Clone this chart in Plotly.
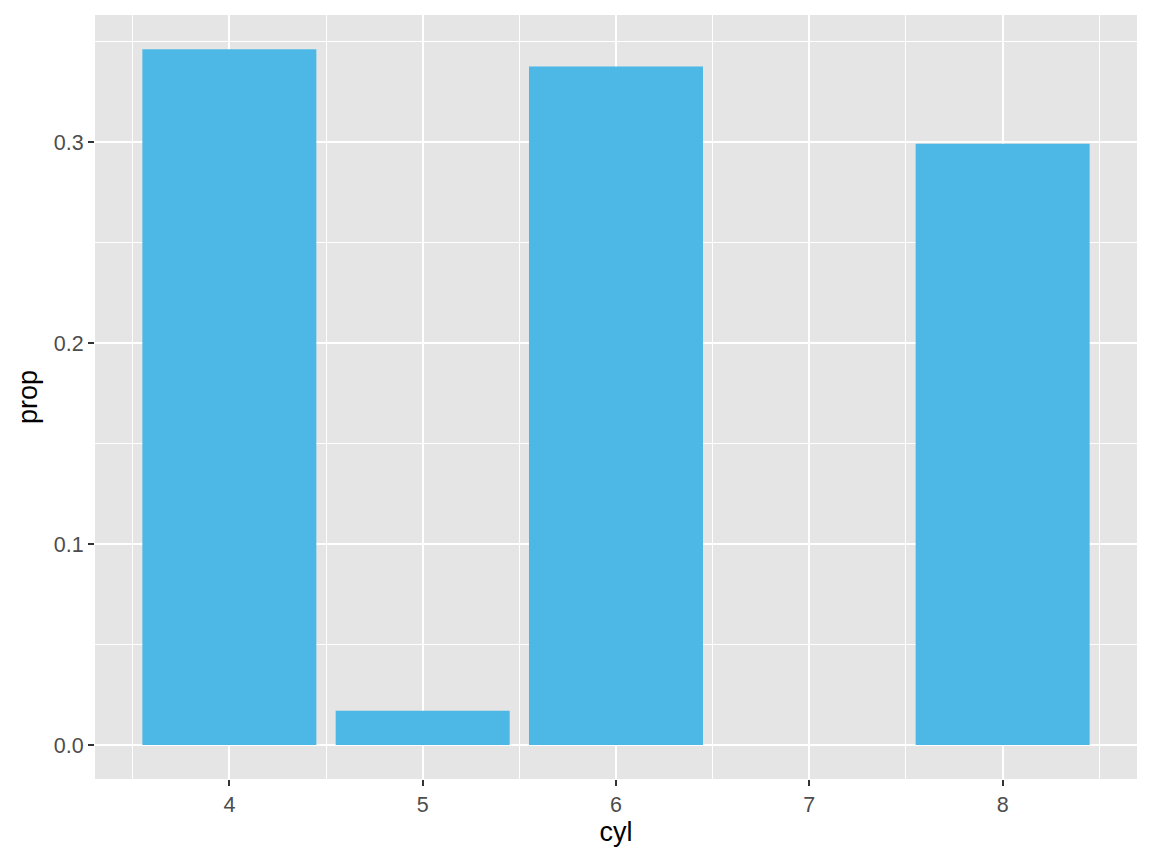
import plotly.graph_objects as go

cyl = [4, 5, 6, 8]
prop = [81/234, 4/234, 79/234, 70/234]
x_ticks = [4, 5, 6, 7, 8]
x_labels = ["4", "5", "6", "7", "8"]
y_ticks = [0.0, 0.1, 0.2, 0.3]
y_labels = ["0.0", "0.1", "0.2", "0.3"]
bar_color = "#4DB8E5"

fig = go.Figure(go.Bar(x=cyl, y=prop, width=0.9, marker=dict(color=bar_color, line=dict(width=0)),
                       hoverinfo="skip"))

fig.update_layout(
    width=1152, height=864,
    margin=dict(l=95, r=15, t=15, b=85),
    paper_bgcolor="white", plot_bgcolor="#E5E5E5",
    font=dict(family="Liberation Sans, Arial, sans-serif"),
    showlegend=False,
)
fig.update_xaxes(
    range=[3.305, 8.695], tickvals=x_ticks, ticktext=x_labels,
    showgrid=True, gridcolor="white", gridwidth=2.2, zeroline=False,
    ticks="outside", ticklen=6, tickwidth=2, tickcolor="#333333",
    tickfont=dict(size=21.5, color="#4D4D4D"),
    title=dict(text="cyl", font=dict(size=27, color="black"), standoff=6),
    minor=dict(tickmode="linear", tick0=3.5, dtick=1, showgrid=True, gridcolor="white", gridwidth=1.1, ticks=""),
)
fig.update_yaxes(
    range=[-0.0169, 0.3632], tickvals=y_ticks, ticktext=y_labels,
    showgrid=True, gridcolor="white", gridwidth=2.2, zeroline=False,
    ticks="outside", ticklen=6, tickwidth=2, tickcolor="#333333",
    tickfont=dict(size=21.5, color="#4D4D4D"),
    title=dict(text="prop", font=dict(size=27, color="black"), standoff=8),
    minor=dict(tickmode="linear", tick0=0.05, dtick=0.1, showgrid=True, gridcolor="white", gridwidth=1.1, ticks=""),
)

fig.write_html("out.html", config={"displayModeBar": False},
               post_script="document.body.style.margin='0';")
